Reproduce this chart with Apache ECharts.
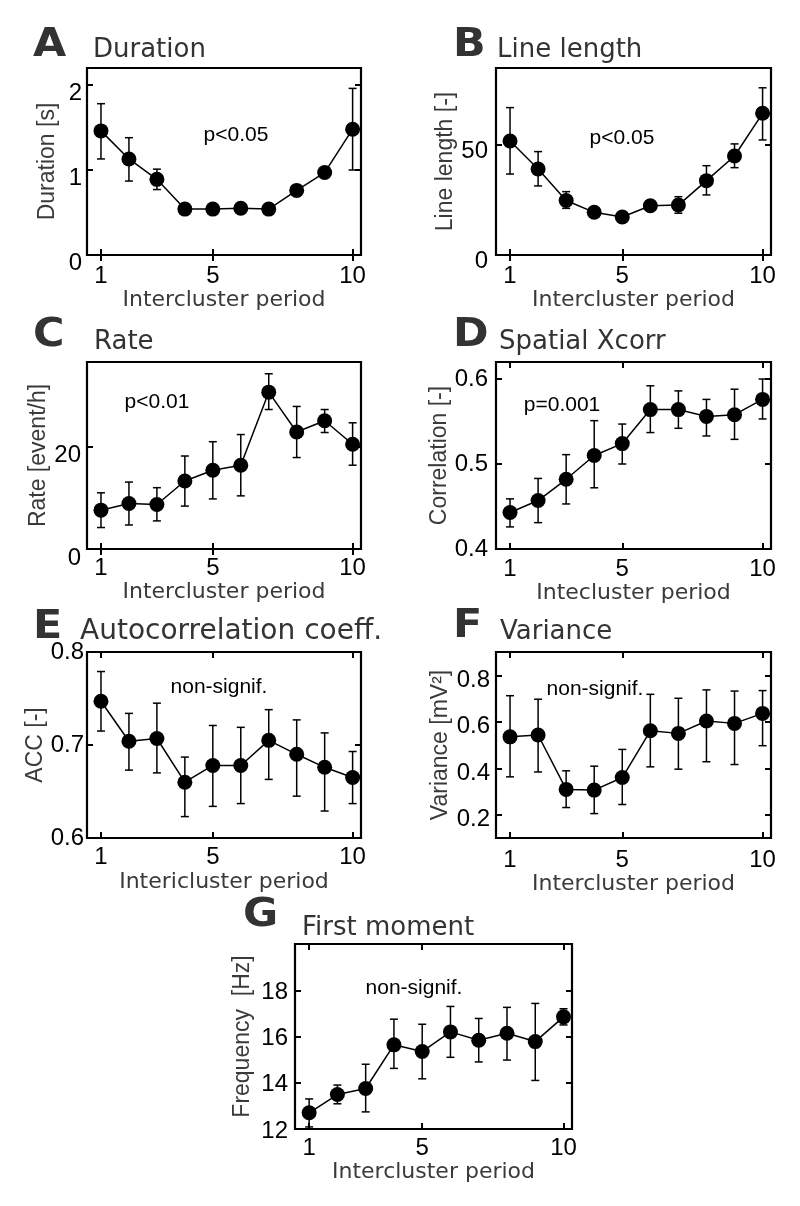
<!DOCTYPE html>
<html>
<head>
<meta charset="utf-8">
<script src="https://cdn.jsdelivr.net/npm/echarts@6/dist/echarts.min.js"></script>
<style>
html, body { margin: 0; padding: 0; background: #fff; }
#main { width: 800px; height: 1206px; }
</style>
</head>
<body>
<div id="main"></div>
<script>
// intercluster periods (x axis)
var periods = [1, 2, 3, 4, 5, 6, 7, 8, 9, 10];
var xTicks = [1, 5, 10];

// A - Duration [s]
var durMean = [1.46, 1.13, 0.89, 0.54, 0.54, 0.55, 0.54, 0.76, 0.97, 1.48];
var durHigh = [1.78, 1.38, 1.01, 0.56, 0.56, 0.57, 0.56, 0.81, 0.99, 1.96];
var durLow  = [1.13, 0.87, 0.77, 0.52, 0.52, 0.53, 0.52, 0.71, 0.95, 1.00];
var durTicks = [0, 1, 2];

// B - Line length [-]
var llMean = [51.8, 39.1, 24.8, 19.4, 17.3, 22.4, 22.7, 33.8, 45.0, 64.4];
var llHigh = [67.0, 47.0, 28.8, 20.9, 19.3, 24.3, 26.5, 40.6, 50.5, 76.0];
var llLow  = [36.8, 31.4, 21.2, 17.9, 15.4, 20.5, 19.0, 27.3, 39.7, 52.3];
var llTicks = [0, 50];

// C - Rate [event/h]
var rateMean = [7.6, 8.9, 8.7, 13.3, 15.4, 16.4, 30.7, 22.9, 25.1, 20.5];
var rateHigh = [11.0, 13.1, 12.0, 18.2, 21.0, 22.4, 34.3, 27.9, 27.3, 24.7];
var rateLow  = [4.2, 4.7, 5.5, 8.4, 9.8, 10.4, 27.3, 17.9, 22.8, 16.4];
var rateTicks = [0, 20];

// D - Spatial Xcorr
var corrMean = [0.443, 0.457, 0.482, 0.510, 0.524, 0.564, 0.564, 0.556, 0.558, 0.576];
var corrHigh = [0.459, 0.483, 0.511, 0.551, 0.547, 0.592, 0.586, 0.576, 0.588, 0.600];
var corrLow  = [0.426, 0.431, 0.453, 0.472, 0.500, 0.537, 0.542, 0.533, 0.529, 0.553];
var corrTicks = [0.4, 0.5, 0.6];

// E - Autocorrelation coeff.
var accMean = [0.747, 0.704, 0.707, 0.660, 0.678, 0.678, 0.705, 0.690, 0.676, 0.665];
var accHigh = [0.779, 0.734, 0.745, 0.687, 0.721, 0.719, 0.738, 0.727, 0.713, 0.693];
var accLow  = [0.715, 0.673, 0.670, 0.623, 0.634, 0.637, 0.663, 0.645, 0.629, 0.637];
var accTicks = [0.6, 0.7, 0.8];

// F - Variance [mV2]
var varMean = [0.535, 0.543, 0.309, 0.306, 0.360, 0.561, 0.550, 0.603, 0.593, 0.636];
var varHigh = [0.712, 0.697, 0.389, 0.409, 0.481, 0.718, 0.701, 0.737, 0.732, 0.734];
var varLow  = [0.363, 0.384, 0.231, 0.205, 0.244, 0.406, 0.396, 0.428, 0.416, 0.497];
var varTicks = [0.2, 0.4, 0.6, 0.8];

// G - First moment [Hz]
var freqMean = [12.70, 13.49, 13.75, 15.64, 15.35, 16.20, 15.84, 16.14, 15.78, 16.85];
var freqHigh = [13.30, 13.90, 14.80, 16.75, 16.53, 17.30, 16.78, 17.26, 17.43, 17.20];
var freqLow  = [12.09, 13.09, 12.74, 14.62, 14.17, 15.10, 14.90, 14.98, 14.10, 16.50];
var freqTicks = [12, 14, 16, 18];

var chart = echarts.init(document.getElementById('main'));

var grids = [], xAxes = [], yAxes = [], series = [], graphics = [];
var ARIAL = '"Liberation Sans", Arial, sans-serif';
var DEJAVU = '"DejaVu Sans", sans-serif';

// vertical error bar with caps
function errorBar(params, api) {
  var hi = api.coord([api.value(0), api.value(2)]);
  var lo = api.coord([api.value(0), api.value(1)]);
  var hw = 4;
  var st = { stroke: '#000', lineWidth: 1.5 };
  return {
    type: 'group',
    children: [
      { type: 'line', shape: { x1: hi[0], y1: hi[1], x2: lo[0], y2: lo[1] }, style: st },
      { type: 'line', shape: { x1: hi[0] - hw, y1: hi[1], x2: hi[0] + hw, y2: hi[1] }, style: st },
      { type: 'line', shape: { x1: lo[0] - hw, y1: lo[1], x2: lo[0] + hw, y2: lo[1] }, style: st }
    ]
  };
}

function tick(values) {
  return { show: true, inside: true, length: 6, customValues: values, lineStyle: { color: '#000', width: 2 } };
}

function addPanel(p) {
  var gi = grids.length;
  grids.push({
    left: p.box[0], top: p.box[1], width: p.box[2], height: p.box[3],
    show: true, borderColor: '#000', borderWidth: 2.2, backgroundColor: 'transparent'
  });
  var xi = xAxes.length, yi = yAxes.length;
  // y tick labels in the source sit a little below their ticks in some panels
  var yLab = { customValues: p.yTicks, margin: p.yLabelGap, fontSize: 24, fontFamily: ARIAL, color: '#000' };
  if (p.yLabelShift > 0) {
    yLab.verticalAlign = 'top';
    yLab.lineHeight = 2 * p.yLabelShift;
  }
  xAxes.push({
    gridIndex: gi, type: 'value', position: 'bottom', min: 0.5, max: 10.3,
    axisLine: { show: false }, splitLine: { show: false }, axisTick: tick(xTicks),
    axisLabel: { customValues: xTicks, margin: p.xLabelGap, fontSize: 24, fontFamily: ARIAL, color: '#000' },
    name: p.xName, nameLocation: 'middle', nameGap: p.xNameGap,
    nameTextStyle: { fontSize: 22, fontFamily: DEJAVU, color: '#3a3a3a' }
  });
  xAxes.push({
    gridIndex: gi, type: 'value', position: 'top', min: 0.5, max: 10.3,
    axisLine: { show: false }, splitLine: { show: false }, axisTick: tick(xTicks),
    axisLabel: { show: false }
  });
  yAxes.push({
    gridIndex: gi, type: 'value', position: 'left', min: p.yMin, max: p.yMax,
    axisLine: { show: false }, splitLine: { show: false }, axisTick: tick(p.yTicks),
    axisLabel: yLab,
    name: p.yName, nameLocation: 'middle', nameGap: p.yNameGap,
    nameTextStyle: { fontSize: 23, fontFamily: ARIAL, color: '#3a3a3a' }
  });
  yAxes.push({
    gridIndex: gi, type: 'value', position: 'right', min: p.yMin, max: p.yMax,
    axisLine: { show: false }, splitLine: { show: false }, axisTick: tick(p.yTicks),
    axisLabel: { show: false }
  });
  series.push({
    type: 'custom', xAxisIndex: xi, yAxisIndex: yi, renderItem: errorBar, silent: true, z: 2,
    encode: { x: 0, y: [1, 2] },
    data: periods.map(function (x, k) { return [x, p.low[k], p.high[k]]; })
  });
  series.push({
    type: 'line', xAxisIndex: xi, yAxisIndex: yi, z: 3,
    symbol: 'circle', symbolSize: 15, showSymbol: true,
    itemStyle: { color: '#000' }, lineStyle: { color: '#000', width: 1.5 },
    data: periods.map(function (x, k) { return [x, p.mean[k]]; })
  });

  // panel letter, title and significance note
  graphics.push({
    type: 'text', x: p.letterPos[0], y: p.letterPos[1], scaleX: 1.1,
    style: { text: p.letter, font: 'bold 39px ' + DEJAVU, fill: '#333',
      align: 'left', verticalAlign: 'middle', textAlign: 'left', textVerticalAlign: 'middle' }
  });
  graphics.push({
    type: 'text', x: p.titlePos[0], y: p.titlePos[1],
    style: { text: p.title, font: (p.titleSize || 26) + 'px ' + DEJAVU, fill: '#333',
      align: 'left', verticalAlign: 'middle', textAlign: 'left', textVerticalAlign: 'middle' }
  });
  graphics.push({
    type: 'text', x: p.notePos[0], y: p.notePos[1],
    style: { text: p.note, font: '21px ' + ARIAL, fill: '#000',
      align: 'center', verticalAlign: 'middle', textAlign: 'center', textVerticalAlign: 'middle' }
  });
}

addPanel({
  box: [87, 68, 274, 187], yMin: 0, yMax: 2.2, yTicks: durTicks,
  mean: durMean, high: durHigh, low: durLow,
  xName: 'Intercluster period', xNameGap: 26, xLabelGap: 9,
  yName: 'Duration [s]', yNameGap: 28, yLabelGap: 5, yLabelShift: 8,
  letter: 'A', letterPos: [33, 46], title: 'Duration', titlePos: [93, 50.5],
  note: 'p<0.05', notePos: [236, 135]
});
addPanel({
  box: [496, 68, 275, 187], yMin: 0, yMax: 85, yTicks: llTicks,
  mean: llMean, high: llHigh, low: llLow,
  xName: 'Intercluster period', xNameGap: 26, xLabelGap: 9,
  yName: 'Line length [-]', yNameGap: 37, yLabelGap: 8, yLabelShift: 6,
  letter: 'B', letterPos: [453, 46], title: 'Line length', titlePos: [497, 50.5],
  note: 'p<0.05', notePos: [622, 138]
});
addPanel({
  box: [87, 362, 274, 187], yMin: 0, yMax: 36.6, yTicks: rateTicks,
  mean: rateMean, high: rateHigh, low: rateLow,
  xName: 'Intercluster period', xNameGap: 29, xLabelGap: 7,
  yName: 'Rate [event/h]', yNameGap: 37, yLabelGap: 6, yLabelShift: 9,
  letter: 'C', letterPos: [33, 336], title: 'Rate', titlePos: [94, 342.5],
  note: 'p<0.01', notePos: [157, 402]
});
addPanel({
  box: [496, 362, 275, 187], yMin: 0.4, yMax: 0.62, yTicks: corrTicks,
  mean: corrMean, high: corrHigh, low: corrLow,
  xName: 'Intecluster period', xNameGap: 24, xLabelGap: 8,
  yName: 'Correlation [-]', yNameGap: 44, yLabelGap: 8, yLabelShift: 0,
  letter: 'D', letterPos: [453, 336], title: 'Spatial Xcorr', titlePos: [499, 342.5],
  note: 'p=0.001', notePos: [562, 405]
});
addPanel({
  box: [87, 652, 274, 186], yMin: 0.6, yMax: 0.8, yTicks: accTicks,
  mean: accMean, high: accHigh, low: accLow,
  xName: 'Intericluster period', xNameGap: 33, xLabelGap: 7,
  yName: 'ACC [-]', yNameGap: 37, yLabelGap: 3, yLabelShift: 0,
  letter: 'E', letterPos: [33, 628], title: 'Autocorrelation coeff.', titlePos: [80, 632], titleSize: 28,
  note: 'non-signif.', notePos: [219, 687]
});
addPanel({
  box: [496, 652, 275, 186], yMin: 0.1, yMax: 0.9, yTicks: varTicks,
  mean: varMean, high: varHigh, low: varLow,
  xName: 'Intercluster period', xNameGap: 35, xLabelGap: 10,
  yName: 'Variance [mV\u00b2]', yNameGap: 44, yLabelGap: 6, yLabelShift: 5,
  letter: 'F', letterPos: [453, 627], title: 'Variance', titlePos: [500, 632.5],
  note: 'non-signif.', notePos: [595, 689]
});
addPanel({
  box: [295, 944, 277, 185], yMin: 12, yMax: 20, yTicks: freqTicks,
  mean: freqMean, high: freqHigh, low: freqLow,
  xName: 'Intercluster period', xNameGap: 29, xLabelGap: 7,
  yName: 'Frequency  [Hz]', yNameGap: 41, yLabelGap: 7, yLabelShift: 2,
  letter: 'G', letterPos: [243, 916], title: 'First moment', titlePos: [302, 928.5],
  note: 'non-signif.', notePos: [414, 988]
});

chart.setOption({
  backgroundColor: '#fff',
  animation: false,
  grid: grids,
  xAxis: xAxes,
  yAxis: yAxes,
  series: series,
  graphic: graphics
});
</script>
</body>
</html>
